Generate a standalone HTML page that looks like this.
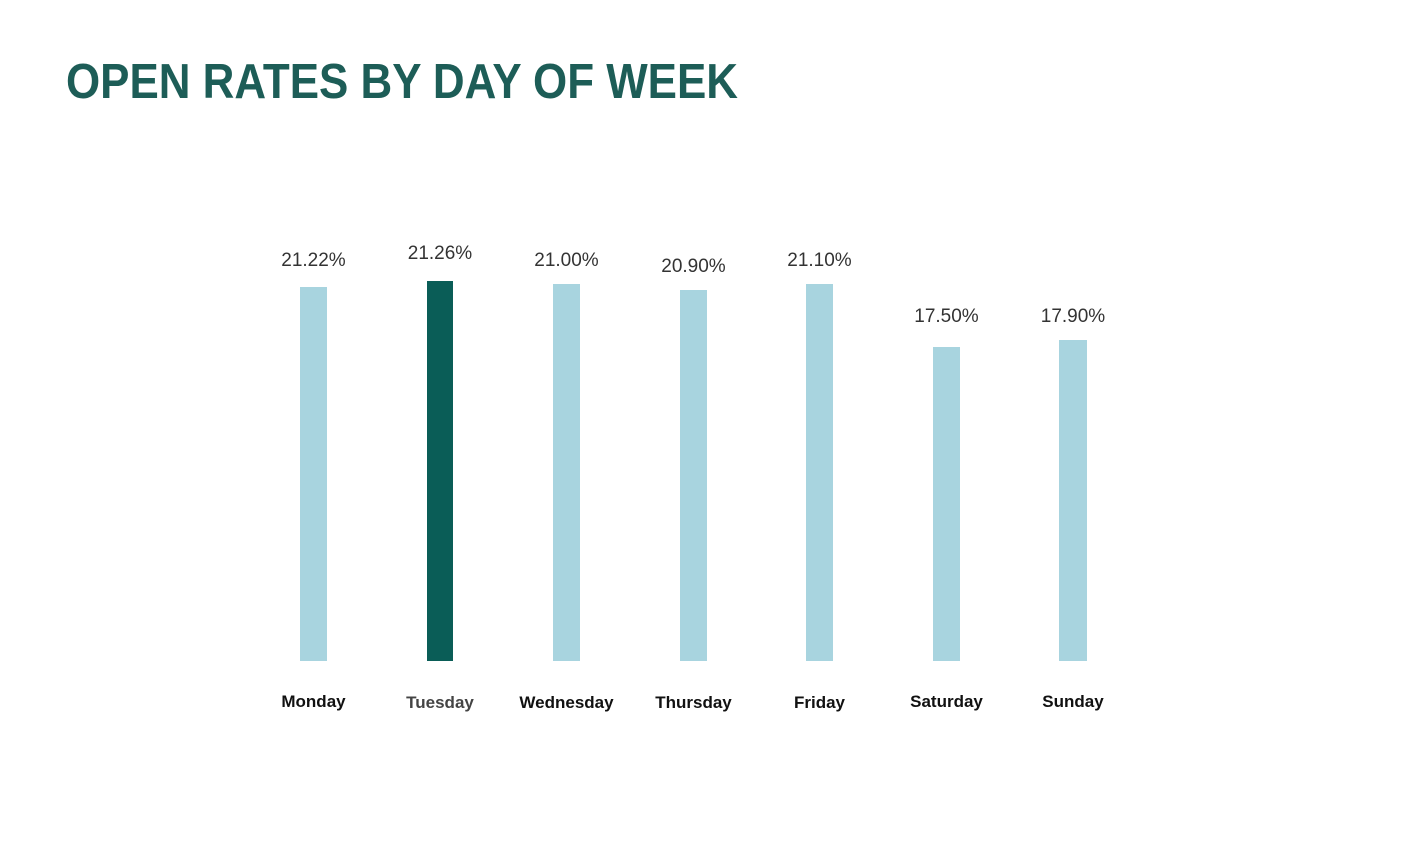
<!DOCTYPE html>
<html><head><meta charset="utf-8"><style>
html,body{margin:0;padding:0;background:#fff;}
svg{display:block;}
</style></head><body>
<svg width="1418" height="845" xmlns="http://www.w3.org/2000/svg">
<rect width="1418" height="845" fill="#fff"/>
<text x="66" y="98" font-family="Liberation Sans, sans-serif" font-weight="bold" font-size="49" fill="#1d5d57" textLength="672" lengthAdjust="spacingAndGlyphs">OPEN RATES BY DAY OF WEEK</text>
<g fill="#a8d4df">
<rect x="300" y="287" width="27" height="374"/>
<rect x="553" y="284" width="27" height="377"/>
<rect x="680" y="290" width="27" height="371"/>
<rect x="806" y="284" width="27" height="377"/>
<rect x="933" y="347" width="27" height="314"/>
<rect x="1059" y="340" width="28" height="321"/>
</g>
<rect x="427" y="281" width="26" height="380" fill="#0a5d57"/>
<g font-family="Liberation Sans, sans-serif" font-size="19" fill="#333" text-anchor="middle">
<text x="313.5" y="266">21.22%</text>
<text x="440" y="259">21.26%</text>
<text x="566.5" y="266">21.00%</text>
<text x="693.5" y="272">20.90%</text>
<text x="819.5" y="266">21.10%</text>
<text x="946.5" y="322">17.50%</text>
<text x="1073" y="322">17.90%</text>
</g>
<g font-family="Liberation Sans, sans-serif" font-size="17" font-weight="bold" fill="#111" text-anchor="middle">
<text x="313.5" y="707">Monday</text>
<text x="440" y="708" fill="#444">Tuesday</text>
<text x="566.5" y="708">Wednesday</text>
<text x="693.5" y="708">Thursday</text>
<text x="819.5" y="708">Friday</text>
<text x="946.5" y="707">Saturday</text>
<text x="1073" y="707">Sunday</text>
</g>
</svg>
</body></html>
